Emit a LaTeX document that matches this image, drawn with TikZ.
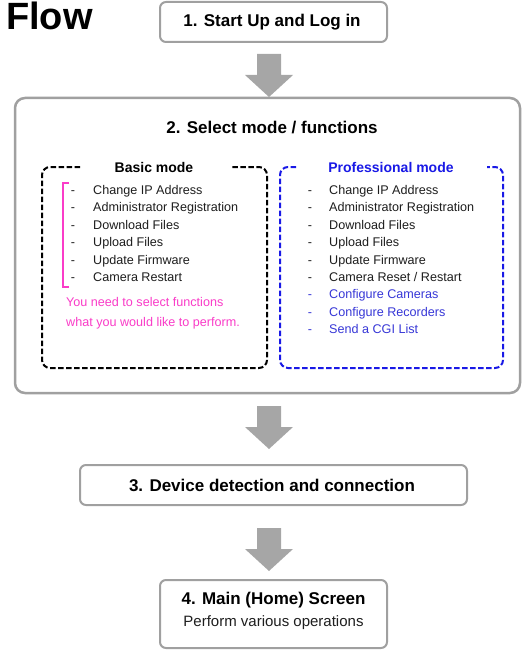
\documentclass[tikz,border=0pt]{standalone}
\usepackage{fontspec}
\setmainfont{Liberation Sans}
\definecolor{boxgray}{RGB}{160,160,160}
\definecolor{arrgray}{RGB}{166,166,166}
\definecolor{pinktext}{RGB}{250,60,200}
\definecolor{problue}{RGB}{25,25,230}
\definecolor{itemblue}{RGB}{55,55,215}
\definecolor{itemtext}{RGB}{30,30,30}
\newcommand\downflowarrow[1]{\fill[arrgray] (#1) ++(-12,0) -- ++(24,0) -- ++(0,21) -- ++(12,0) -- ++(-24,22) -- ++(-24,-22) -- ++(12,0) -- cycle;}
\begin{document}
\begin{tikzpicture}[x=1pt,y=-1pt,
  graybox/.style={draw=boxgray, line width=2pt, rounded corners=6pt, fill=white, inner sep=0pt},
  headtxt/.style={font=\fontsize{17}{20}\selectfont\bfseries, inner sep=0pt, anchor=base},
  subtxt/.style={font=\fontsize{14}{16}\selectfont\bfseries, inner sep=0pt, anchor=base},
  itemtxt/.style={font=\fontsize{12.6}{15}\selectfont, inner sep=0pt, anchor=base west, text=itemtext},
  dashtxt/.style={font=\fontsize{12.6}{15}\selectfont, inner sep=0pt, anchor=base, text=itemtext},
  modebox/.style={line width=2pt, dash pattern=on 5.5pt off 2.5pt, rounded corners=8pt}
]
\useasboundingbox (0,0) rectangle (522,650);

% title
\node[anchor=base west, font=\fontsize{38}{42}\selectfont\bfseries, inner sep=0pt] (title) at (6,30) {Flow};

% box 1
\node[graybox, minimum width=227, minimum height=40] (b1) at (273.5,22) {};
\node[headtxt] (b1t) at (272,27) {1. Start Up and Log in};

% box 2
\node[graybox, line width=2.5pt, rounded corners=10pt, minimum width=505, minimum height=295] (b2) at (267.5,245.5) {};
\node[headtxt] (b2t) at (272,133) {2. Select mode / functions};

% basic mode box
\draw[modebox, black] (80,167) -- (42,167) -- (42,368) -- (267,368) -- (267,167) -- (230,167);
\node[subtxt] (basic) at (154,172) {Basic mode};
\foreach \t [count=\i] in {Change IP Address, Administrator Registration, Download Files, Upload Files, Update Firmware, Camera Restart}{
  \node[dashtxt] (bd\i) at (73,{194.5+17.4*(\i-1)}) {-};
  \node[itemtxt] (bi\i) at (93,{194.5+17.4*(\i-1)}) {\t};
}
\draw[pinktext, line width=2pt] (69,183) -- (63,183) -- (63,287) -- (69,287);
\node[itemtxt, text=pinktext] (note1) at (66,306) {You need to select functions};
\node[itemtxt, text=pinktext] (note2) at (66,326) {what you would like to perform.};

% professional mode box
\draw[modebox, problue] (296,167) -- (280,167) -- (280,368) -- (503,368) -- (503,167) -- (487,167);
\node[subtxt, text=problue] (pro) at (391,172) {Professional mode};
\foreach \t [count=\i] in {Change IP Address, Administrator Registration, Download Files, Upload Files, Update Firmware, Camera Reset / Restart}{
  \node[dashtxt] (pd\i) at (310,{194.5+17.4*(\i-1)}) {-};
  \node[itemtxt] (pi\i) at (329,{194.5+17.4*(\i-1)}) {\t};
}
\foreach \t [count=\i from 7] in {Configure Cameras, Configure Recorders, Send a CGI List}{
  \node[dashtxt, text=itemblue] (pd\i) at (310,{194.5+17.4*(\i-1)}) {-};
  \node[itemtxt, text=itemblue] (pi\i) at (329,{194.5+17.4*(\i-1)}) {\t};
}

% box 3
\node[graybox, minimum width=387, minimum height=40] (b3) at (273.5,485) {};
\node[headtxt] (b3t) at (272,491) {3. Device detection and connection};

% box 4
\node[graybox, minimum width=227, minimum height=68] (b4) at (273.5,614) {};
\node[headtxt] (b4t) at (273.5,604) {4. Main (Home) Screen};
\node[anchor=base, inner sep=0pt, font=\fontsize{15}{18}\selectfont, text=itemtext] (b4s) at (273.5,626) {Perform various operations};

% arrows
\coordinate (a1) at (269,54);
\coordinate (a2) at (269,406);
\coordinate (a3) at (269,528);
\downflowarrow{a1}
\downflowarrow{a2}
\downflowarrow{a3}
\end{tikzpicture}
\end{document}
